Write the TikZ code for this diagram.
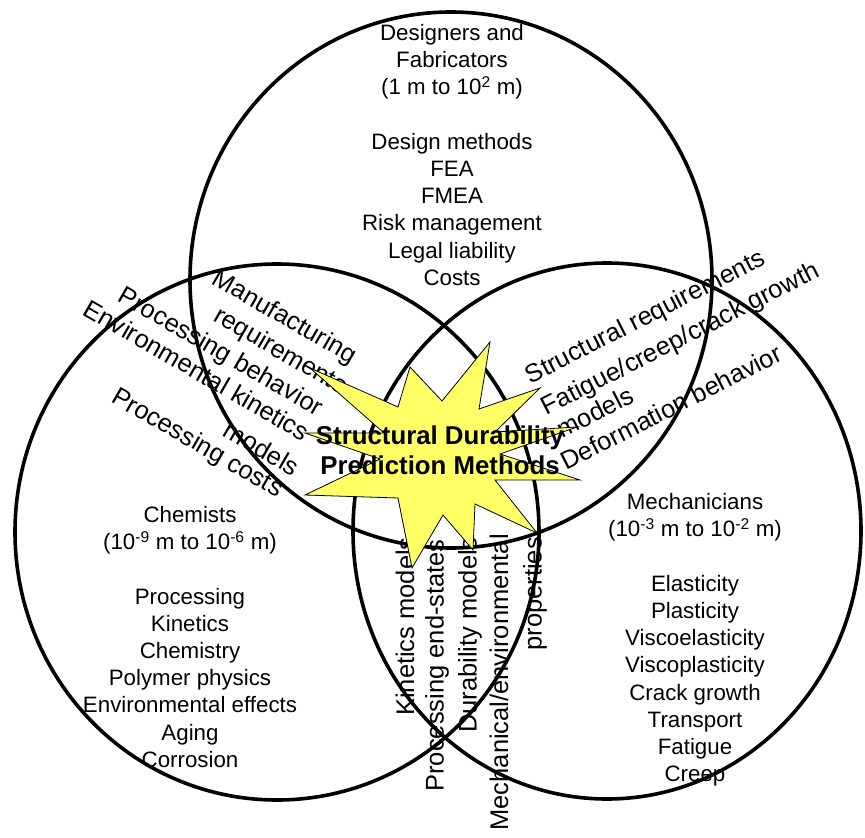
\documentclass[tikz,border=0pt]{standalone}
\usepackage{fontspec}
\setmainfont{Liberation Sans}
\definecolor{starfill}{HTML}{FFFF66}
\begin{document}
\begin{tikzpicture}[x=1pt,y=-1pt,
  ring/.style={line width=3.6pt},
  body/.style={font=\fontsize{22.3}{27.2}\selectfont, align=center, inner sep=0pt},
  tag/.style={font=\fontsize{25.5}{30}\selectfont, inner sep=0pt},
  burst/.style={fill=starfill, draw=black, line width=0.8pt, line join=miter},
  title/.style={font=\bfseries\fontsize{25.8}{30}\selectfont, align=center, inner sep=0pt}]
\useasboundingbox (0,0) rectangle (865,838);

% the three overlapping fields
\draw[ring] (451,280) ellipse [x radius=261, y radius=268];
\draw[ring] (277,532) ellipse [x radius=262, y radius=268];
\draw[ring] (607,531) ellipse [x radius=254, y radius=268];

% field contents
\node[body] (designers) at (452,155) {Designers and\\Fabricators\\(1 m to 10\textsuperscript{2} m)\\[27.2pt]Design methods\\FEA\\FMEA\\Risk management\\Legal liability\\Costs};
\node[body] (chemists) at (190,637) {Chemists\\(10\textsuperscript{-9} m to 10\textsuperscript{-6} m)\\[27.2pt]Processing\\Kinetics\\Chemistry\\Polymer physics\\Environmental effects\\Aging\\Corrosion};
\node[body] (mechanicians) at (695,640) {Mechanicians\\(10\textsuperscript{-3} m to 10\textsuperscript{-2} m)\\[27.2pt]Elasticity\\Plasticity\\Viscoelasticity\\Viscoplasticity\\Crack growth\\Transport\\Fatigue\\Creep};

% overlap of designers and chemists
\node[tag, rotate=-30] (manuf) at (284,318) {Manufacturing};
\node[tag, rotate=-30] (mreq) at (280,352) {requirements};
\node[tag, rotate=-30] (pbeh) at (220,353) {Processing behavior};
\node[tag, rotate=-30] (envk) at (197,370) {Environmental kinetics};
\node[tag, rotate=-30] (envm) at (262,448) {models};
\node[tag, rotate=-30] (pcost) at (197,444) {Processing costs};

% overlap of designers and mechanicians
\node[tag, rotate=27] (sreq) at (646,318) {Structural requirements};
\node[tag, rotate=27] (fcc) at (681,340) {Fatigue/creep/crack growth};
\node[tag, rotate=27] (fccm) at (595,412) {models};
\node[tag, rotate=27] (defb) at (671,407) {Deformation behavior};

% overlap of chemists and mechanicians
\node[tag, rotate=90, anchor=east] (kinm) at (405,537) {Kinetics models};
\node[tag, rotate=90, anchor=east] (pend) at (437,539) {Processing end-states};
\node[tag, rotate=90, anchor=east] (durm) at (470,537) {Durability models};
\node[tag, rotate=90, anchor=east] (mech) at (499,534) {Mechanical/environmental};
\node[tag, rotate=90, anchor=east] (prop) at (535,537) {properties};

% central starburst
\draw[burst] (310,368) -- (398,407) -- (410,367) -- (442,401) -- (490,342)
  -- (479,409) -- (540,388) -- (495,432) -- (577,427) -- (500,454)
  -- (580,480) -- (495,480) -- (537,533) -- (475,504) -- (473,550)
  -- (443,515) -- (412,568) -- (398,498) -- (305,495) -- (380,459)
  -- (305,433) -- (384,433) -- cycle;
\node[title] (core) at (440,450) {Structural Durability\\Prediction Methods};
\end{tikzpicture}
\end{document}
